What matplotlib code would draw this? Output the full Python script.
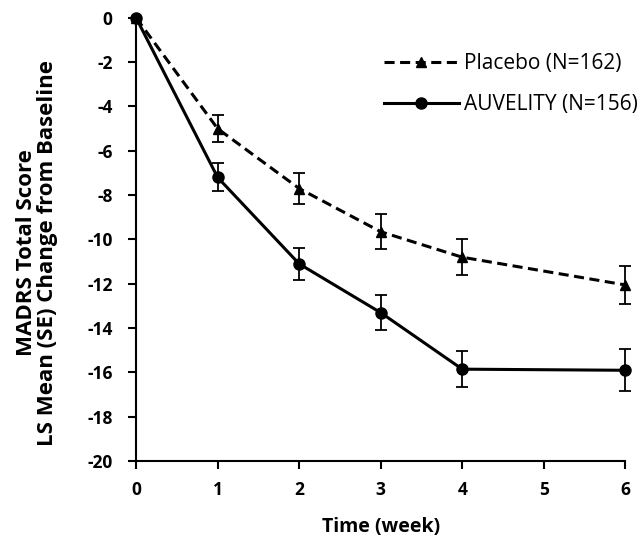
import matplotlib

matplotlib.use("Agg")
import matplotlib.pyplot as plt
from matplotlib.lines import Line2D

plt.rcParams["font.family"] = ["Open Sans", "DejaVu Sans"]
plt.rcParams["font.weight"] = "bold"
plt.rcParams["axes.unicode_minus"] = False

weeks = [0, 1, 2, 3, 4, 6]
placebo_mean = [0.0, -5.0, -7.7, -9.65, -10.8, -12.05]
placebo_se = [0.0, 0.6, 0.7, 0.8, 0.8, 0.85]
auvelity_mean = [0.0, -7.2, -11.1, -13.3, -15.85, -15.9]
auvelity_se = [0.0, 0.63, 0.72, 0.8, 0.8, 0.95]

dash = (0, (3.3, 1.8))

fig = plt.figure(figsize=(6.42, 5.4), dpi=100)
ax = fig.add_axes([0.212, 0.146, 0.762, 0.821])

ax.errorbar(weeks, placebo_mean, yerr=placebo_se, color="black", ls=dash,
            lw=2.2, marker="^", ms=7, capsize=4, elinewidth=1.3, capthick=1.3, clip_on=False)
ax.errorbar(weeks, auvelity_mean, yerr=auvelity_se, color="black", ls="-",
            lw=2.2, marker="o", ms=8, capsize=4, elinewidth=1.3, capthick=1.3, clip_on=False)

ax.set_xlim(0, 6)
ax.set_ylim(-20, 0)
ax.set_xticks(range(0, 7))
ax.set_yticks(range(-20, 1, 2))
for s in ("top", "right"):
    ax.spines[s].set_visible(False)
for s in ("left", "bottom"):
    ax.spines[s].set_linewidth(1.5)
ax.tick_params(direction="out", length=6, width=1.5, labelsize=12.5)
ax.tick_params(axis="y", pad=11)
ax.tick_params(axis="x", pad=8)

ax.set_xlabel("Time (week)", fontsize=14, fontweight="bold", labelpad=13)
ax.set_ylabel("MADRS Total Score\nLS Mean (SE) Change from Baseline", fontsize=16,
              fontweight="bold", linespacing=1.0)
ax.yaxis.set_label_coords(-0.16, 0.47)

handles = [
    Line2D([], [], color="black", ls=dash, lw=2.2, marker="^", ms=7),
    Line2D([], [], color="black", ls="-", lw=2.2, marker="o", ms=8),
]
ax.legend(handles, ["Placebo (N=162)", "AUVELITY (N=156)"], loc="upper right",
          bbox_to_anchor=(1.064, 0.962), frameon=False, handlelength=3.6,
          handletextpad=0.25, labelspacing=0.95, prop={"weight": "normal", "size": 15})

fig.savefig("out.png", dpi=100)
